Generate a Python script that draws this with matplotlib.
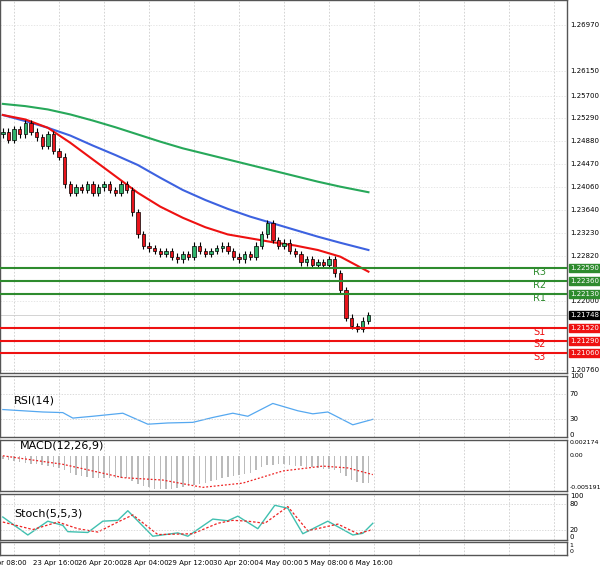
import matplotlib
matplotlib.use("Agg")
import matplotlib.pyplot as plt
import numpy as np

W, H = 600, 573
closes = [1.2505,1.2490,1.2510,1.2500,1.2520,1.2505,1.2495,1.2480,1.2500,1.2470,1.2460,
          1.2410,1.2395,
          1.2405,1.2400,1.2410,1.2395,1.2405,1.2410,1.2400,1.2395,1.2410,1.2400,
          1.2360,1.2320,
          1.2300,1.2295,1.2290,1.2285,1.2290,1.2280,1.2275,1.2285,1.2280,1.2300,1.2290,1.2285,1.2290,1.2295,1.2300,1.2290,
          1.2280,1.2275,1.2285,1.2280,
          1.2300,1.2320,1.2340,1.2310,1.2300,
          1.2305,1.2290,1.2285,1.2270,1.2275,
          1.2265,1.2270,1.2265,1.2275,1.2250,1.2220,1.2170,1.2155,1.2150,1.2165,1.2175]
first_open = 1.2500
ma_idx = [0,4,8,12,16,20,24,28,32,36,40,44,48,52,56,60,65]
ma_green = [1.2555,1.2551,1.2545,1.2536,1.2525,1.2513,1.2500,1.2487,1.2475,1.2465,1.2455,1.2445,1.2435,1.2425,1.2415,1.2406,1.2396]
ma_blue = [1.2535,1.2524,1.2512,1.2498,1.2480,1.2463,1.2445,1.2422,1.2400,1.2382,1.2366,1.2352,1.2340,1.2328,1.2316,1.2305,1.2292]
ma_red = [1.2535,1.2527,1.2512,1.2485,1.2455,1.2425,1.2395,1.2370,1.2350,1.2333,1.2320,1.2313,1.2306,1.2300,1.2292,1.2280,1.2253]
levels = {"R3":1.22590,"R2":1.22360,"R1":1.22130,"S1":1.21520,"S2":1.21290,"S3":1.21060}
last_price = 1.21748
price_ticks = [1.26970,1.26150,1.25700,1.25290,1.24880,1.24470,1.24060,1.23640,1.23230,1.22820,1.22000,1.20760]
rsi_x = [0,40,60,70,90,120,145,165,190,210,230,245,270,295,310,325,350,370]
rsi_v = [45,41,40,31,34,39,21,23,24,32,39,34,55,43,38,41,20,29]
macd_hist = [-0.0005,-0.0007,-0.0009,-0.0010,-0.0012,-0.0013,-0.0014,-0.0015,
             -0.0016,-0.0018,-0.0020,-0.0024,-0.0028,-0.0031,-0.0033,-0.0035,
             -0.0036,-0.0036,-0.0037,-0.0037,-0.0036,-0.0036,-0.0037,-0.0042,
             -0.0047,-0.0050,-0.0052,-0.0054,-0.0055,-0.0055,-0.0054,-0.0053,
             -0.0052,-0.0050,-0.0048,-0.0046,-0.0044,-0.0042,-0.0040,-0.0037,
             -0.0035,-0.0033,-0.0032,-0.0030,-0.0028,-0.0024,-0.0019,-0.0015,
             -0.0015,-0.0014,-0.0014,-0.0015,-0.0016,-0.0017,-0.0018,-0.0019,
             -0.0020,-0.0021,-0.0022,-0.0024,-0.0028,-0.0034,-0.0040,-0.0043,-0.0044,-0.0045]
macd_sig_x = [0,60,120,160,200,240,280,320,345,370]
macd_sig_v = [0,-0.0014,-0.0036,-0.0040,-0.0052,-0.0045,-0.0025,-0.0017,-0.0020,-0.0031]
st_x = [0,25,45,60,65,85,100,115,125,150,175,185,210,225,235,255,272,285,300,325,350,360,370]
st_v = [50,7,40,30,15,13,40,42,65,4,12,4,45,41,52,22,78,71,10,40,7,11,35]
sg_x = [0,30,55,75,95,115,130,155,190,215,230,245,262,285,305,335,355,370]
sg_v = [38,20,38,22,14,38,55,8,10,35,42,40,35,75,17,33,10,20]
xlabels = ["Apr 08:00","23 Apr 16:00","26 Apr 20:00","28 Apr 04:00","29 Apr 12:00",
           "30 Apr 20:00","4 May 00:00","5 May 08:00","6 May 16:00"]

BW = 5.625  # px per bar
XR = 567
fig = plt.figure(figsize=(W/100, H/100), dpi=100)
def ax_at(top, bot):
    a = fig.add_axes([0, 1-bot/H, XR/W, (bot-top)/H])
    a.set_xlim(-0.5, XR/BW - 0.5)
    a.set_xticks([]); a.set_yticks([])
    for s in a.spines.values(): s.set_color("#555"); s.set_linewidth(1)
    for k in range(13):
        a.axvline(k*8+2, color="#cccccc", ls=(0,(2,2)), lw=0.6, zorder=0)
    return a

def ylab(a, v, t, fs=5, **kw):
    a.text(1.005, v, t, transform=a.get_yaxis_transform(), fontsize=fs, va="center", ha="left", clip_on=False, **kw)

# main
ax = ax_at(0, 373)
ax.set_ylim(1.20706, 1.2742)
opens = [first_open] + closes[:-1]
for i, (o, c) in enumerate(zip(opens, closes)):
    top, bot = max(o, c), min(o, c)
    ax.vlines(i, bot - 0.0006, top + 0.0006, color="black", lw=0.8, zorder=3)
    ax.bar(i, max(top-bot, 0.00008), bottom=bot, width=0.6,
           color="#2fb36b" if c >= o else "#e8141c", edgecolor="black", lw=0.5, zorder=4)
ax.plot(ma_idx, ma_green, color="#27a85a", lw=1.5, zorder=2)
ax.plot(ma_idx, ma_blue, color="#3d62e0", lw=1.5, zorder=2)
ax.plot(ma_idx, ma_red, color="#ee1111", lw=1.5, zorder=2)
for p in price_ticks:
    ax.axhline(p, color="#dddddd", ls=(0,(2,2)), lw=0.5, zorder=0)
    ylab(ax, p, f"{p:.5f}")
for name, v in levels.items():
    col = "#2e8b2e" if name.startswith("R") else "#ee1111"
    ax.axhline(v, color=col, lw=1.5, zorder=5)
    ylab(ax, v, f"{v:.5f}", color="white", bbox=dict(boxstyle="square,pad=0.15", fc=col, ec=col))
    ax.text(95.5, v - 0.0007, name, color=col, fontsize=7, ha="center", va="center")
ax.axhline(last_price, color="#cccccc", lw=0.6)
ylab(ax, last_price, f"{last_price:.5f}", color="white", bbox=dict(boxstyle="square,pad=0.15", fc="black", ec="black"))

# RSI
r = ax_at(376, 437); r.set_ylim(0, 100)
r.plot(np.array(rsi_x)/BW, rsi_v, color="#55a8f0", lw=0.9)
for v in (70, 30): r.axhline(v, color="#cccccc", ls=(0,(2,2)), lw=0.5)
for v in (100, 70, 30): ylab(r, v, str(v))
ylab(r, 4, "0")
r.text(2, 55, "RSI(14)", fontsize=8)

# MACD
m = ax_at(440, 491); m.set_ylim(-0.0058, 0.0026)
m.bar(range(len(macd_hist)), macd_hist, width=0.25, color="#bbbbbb")
m.plot(np.array(macd_sig_x)/BW, macd_sig_v, color="#ee2222", ls=(0,(1.5,1.5)), lw=0.9)
ylab(m, 0.002174, "0.002174", fs=4.5); ylab(m, 0.0, "0.00", fs=4.5); ylab(m, -0.005191, "-0.005191", fs=4.5)
m.text(3, 0.0012, "MACD(12,26,9)", fontsize=8)

# Stoch
s = ax_at(494, 540); s.set_ylim(-5, 105)
s.plot(np.array(st_x)/BW, st_v, color="#40c0b0", lw=1.0)
s.plot(np.array(sg_x)/BW, sg_v, color="#ee2222", ls=(0,(2,1.5)), lw=0.9)
for v in (80, 20): s.axhline(v, color="#cccccc", ls=(0,(2,2)), lw=0.5)
for v in (100, 80, 20): ylab(s, v, str(v))
ylab(s, 3, "0")
s.text(2, 50, "Stoch(5,5,3)", fontsize=8)

# empty panel
e = ax_at(542, 555); e.set_ylim(0, 1)
ylab(e, 0.75, "1", fs=4.5); ylab(e, 0.25, "0", fs=4.5)

for k, t in enumerate(xlabels):
    if k == 0:
        fig.text(27/W, 1-563/H, t, fontsize=5, ha="right", va="center")
    else:
        fig.text((k*8+2)*BW/W, 1-563/H, t, fontsize=5, ha="center", va="center")

fig.savefig("out.png", dpi=100)
